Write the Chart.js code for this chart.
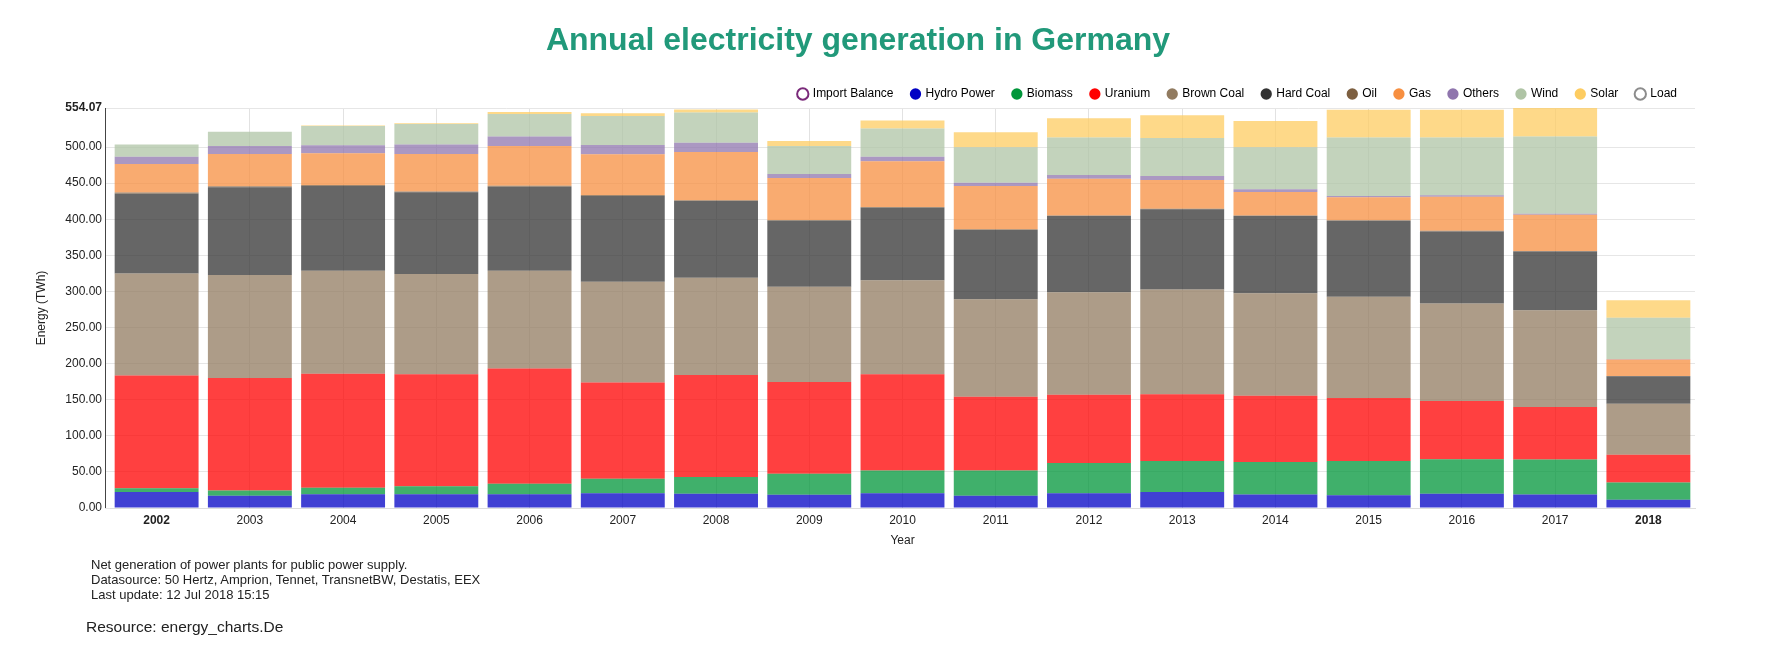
<!DOCTYPE html>
<html>
<head>
<meta charset="utf-8">
<title>Annual electricity generation in Germany</title>
<script src="https://cdn.jsdelivr.net/npm/chart.js@4.4.1/dist/chart.umd.min.js"></script>
<style>
  body { margin: 0; background: #fff; font-family: Arial, "Liberation Sans", sans-serif; }
  #wrap { position: relative; width: 1790px; height: 650px; }
  #chartBox { position: absolute; left: 0; top: 0; width: 1790px; height: 650px; }
  #title { position: absolute; left: 408px; width: 900px; top: 23px; text-align: center;
           font-size: 32px; line-height: 32px; font-weight: bold; color: #21997a; }
  #notes { position: absolute; left: 91px; top: 557px; font-size: 13px; line-height: 15px; color: #222; }
  #resource { position: absolute; left: 86px; top: 618px; font-size: 15.5px; line-height: 18px; color: #222; }
</style>
</head>
<body>
<div id="wrap">
  <div id="chartBox"><canvas id="genChart"></canvas></div>
  <div id="title">Annual electricity generation in Germany</div>
  <div id="notes">
    Net generation of power plants for public power supply.<br>
    Datasource: 50 Hertz, Amprion, Tennet, TransnetBW, Destatis, EEX<br>
    Last update: 12 Jul 2018 15:15
  </div>
  <div id="resource">Resource: energy_charts.De</div>
</div>
<script>
// years on the x axis
const years = ['2002', '2003', '2004', '2005', '2006', '2007', '2008', '2009', '2010',
               '2011', '2012', '2013', '2014', '2015', '2016', '2017', '2018'];

// TWh per source (stacked bottom to top)
const hydro     = [22.0, 16.9, 19.2, 19.2, 19.2, 20.6, 19.7, 18.3, 20.6, 16.9, 20.6, 22.0, 18.7, 17.8, 19.7, 18.7, 11.3];
const biomass   = [5.5, 7.4, 8.8, 11.1, 14.3, 19.9, 23.1, 29.1, 31.4, 35.1, 41.7, 43.0, 44.9, 47.2, 48.0, 48.6, 24.1];
const uranium   = [155.9, 155.8, 158.1, 154.9, 159.6, 133.2, 141.5, 127.2, 133.2, 102.2, 94.7, 92.5, 92.0, 87.4, 80.5, 72.6, 38.4];
const brownCoal = [141.5, 142.5, 142.5, 138.8, 135.5, 139.6, 134.6, 131.8, 130.4, 135.1, 142.0, 145.2, 142.0, 140.1, 135.0, 134.1, 70.7];
const hardCoal  = [110.5, 121.6, 117.4, 113.2, 116.5, 118.9, 106.3, 91.5, 100.4, 95.7, 105.4, 111.0, 106.8, 105.4, 99.9, 81.4, 37.9];
const oil       = [1.5, 1.4, 1.3, 1.3, 1.2, 1.2, 1.1, 1.1, 1.0, 1.0, 0.9, 0.9, 0.8, 0.8, 0.8, 0.7, 0.4];
const gas       = [39.7, 44.8, 44.1, 51.9, 55.2, 56.6, 66.9, 58.1, 63.3, 60.0, 50.9, 39.8, 32.5, 31.6, 47.3, 50.2, 22.8];
const others    = [10.1, 11.1, 11.1, 13.0, 13.0, 12.9, 12.9, 5.6, 6.4, 4.7, 5.1, 5.5, 3.7, 1.9, 1.9, 1.3, 0.9];
const wind      = [16.7, 19.5, 26.8, 28.6, 31.4, 40.2, 41.7, 38.8, 38.9, 49.0, 51.8, 52.7, 58.3, 80.9, 80.0, 106.9, 56.9];
const solar     = [0.2, 0.3, 0.5, 1.0, 2.8, 3.8, 4.1, 7.0, 11.1, 20.8, 26.8, 31.5, 36.5, 38.4, 38.4, 39.6, 24.5];
// switched off in the original chart, so nothing drawn
const importBalance = [];
const load = [];

// y axis ticks
const yMax = 554.07;
const yTicks = [0, 50, 100, 150, 200, 250, 300, 350, 400, 450, 500, 554.07];

const series = [
  { label: 'Import Balance', data: importBalance, color: '#7a2a7a', hollow: true },
  { label: 'Hydro Power', data: hydro, color: '#0000c4' },
  { label: 'Biomass', data: biomass, color: '#00963a' },
  { label: 'Uranium', data: uranium, color: '#ff0000' },
  { label: 'Brown Coal', data: brownCoal, color: '#917b60' },
  { label: 'Hard Coal', data: hardCoal, color: '#333333' },
  { label: 'Oil', data: oil, color: '#7d5f40' },
  { label: 'Gas', data: gas, color: '#f78f40' },
  { label: 'Others', data: others, color: '#8f75ad' },
  { label: 'Wind', data: wind, color: '#afc4a5' },
  { label: 'Solar', data: solar, color: '#fdcc61' },
  { label: 'Load', data: load, color: '#8c8c8c', hollow: true }
];

function rgba(hex, a) {
  const n = parseInt(hex.slice(1), 16);
  return `rgba(${n >> 16}, ${(n >> 8) & 255}, ${n & 255}, ${a})`;
}

Chart.defaults.font.family = 'Arial, "Liberation Sans", sans-serif';
Chart.defaults.font.size = 12;
Chart.defaults.color = '#333';

// legend is laid out with wide padding, but should not push the plot down
const legendHeight = {
  id: 'legendHeight',
  beforeLayout(chart) {
    const legend = chart.legend;
    if (legend && !legend._patched) {
      const fit = legend.fit;
      legend.fit = function () { fit.call(this); this.height = 38; };
      legend._patched = true;
    }
  }
};

// y axis line sits a little left of the first bar
const yAxisLine = {
  id: 'yAxisLine',
  afterDraw(chart) {
    const { ctx, chartArea } = chart;
    ctx.save();
    ctx.strokeStyle = '#444';
    ctx.lineWidth = 1;
    ctx.beginPath();
    ctx.moveTo(chartArea.left - 4.5, chartArea.top);
    ctx.lineTo(chartArea.left - 4.5, chartArea.bottom);
    ctx.stroke();
    ctx.restore();
  }
};

const ctx = document.getElementById('genChart').getContext('2d');
new Chart(ctx, {
  type: 'bar',
  data: {
    labels: years,
    datasets: series.map(s => ({
      label: s.label,
      data: s.data,
      backgroundColor: s.hollow ? '#fff' : rgba(s.color, 0.75),
      borderWidth: 0,
      categoryPercentage: 0.9,
      barPercentage: 1.0
    }))
  },
  options: {
    responsive: true,
    maintainAspectRatio: false,
    animation: false,
    layout: { padding: { top: 70, left: 30, right: 95, bottom: 100 } },
    plugins: {
      legend: {
        position: 'top',
        align: 'end',
        labels: {
          usePointStyle: true,
          boxWidth: 8,
          boxHeight: 8,
          padding: 18,
          color: '#333',
          font: { size: 12 },
          generateLabels: chart => chart.data.datasets.map((ds, i) => ({
            text: ds.label,
            fillStyle: series[i].hollow ? '#fff' : series[i].color,
            strokeStyle: series[i].color,
            lineWidth: series[i].hollow ? 2 : 0,
            pointStyle: 'circle',
            hidden: !chart.isDatasetVisible(i),
            datasetIndex: i
          }))
        }
      }
    },
    scales: {
      x: {
        stacked: true,
        grid: {
          offset: false,
          drawTicks: false,
          color: c => (c.index === 0 || c.index === years.length - 1) ? 'rgba(0,0,0,0)' : '#e2e2e2'
        },
        border: { color: '#dddddd' },
        ticks: {
          padding: 5,
          color: '#222',
          font: c => ({ size: 12, weight: (c.index === 0 || c.index === years.length - 1) ? 'bold' : 'normal' })
        },
        title: { display: true, text: 'Year', color: '#222', font: { size: 12 }, padding: { top: 4, bottom: 2 } },
        afterFit: s => { s.height = 42; }
      },
      y: {
        stacked: true,
        min: 0,
        max: yMax,
        afterBuildTicks: s => { s.ticks = yTicks.map(v => ({ value: v })); },
        ticks: {
          padding: 3,
          color: '#222',
          callback: v => Number(v).toFixed(2),
          font: c => ({ size: 12, weight: (c.tick && c.tick.value === yMax) ? 'bold' : 'normal' })
        },
        grid: { color: '#e6e6e6', tickLength: 5 },
        border: { display: false },
        title: { display: true, text: 'Energy (TWh)', color: '#222', font: { size: 12 }, padding: { top: 4, bottom: 4 } },
        afterFit: s => { s.width = 80; }
      }
    }
  },
  plugins: [legendHeight, yAxisLine]
});
</script>
</body>
</html>
